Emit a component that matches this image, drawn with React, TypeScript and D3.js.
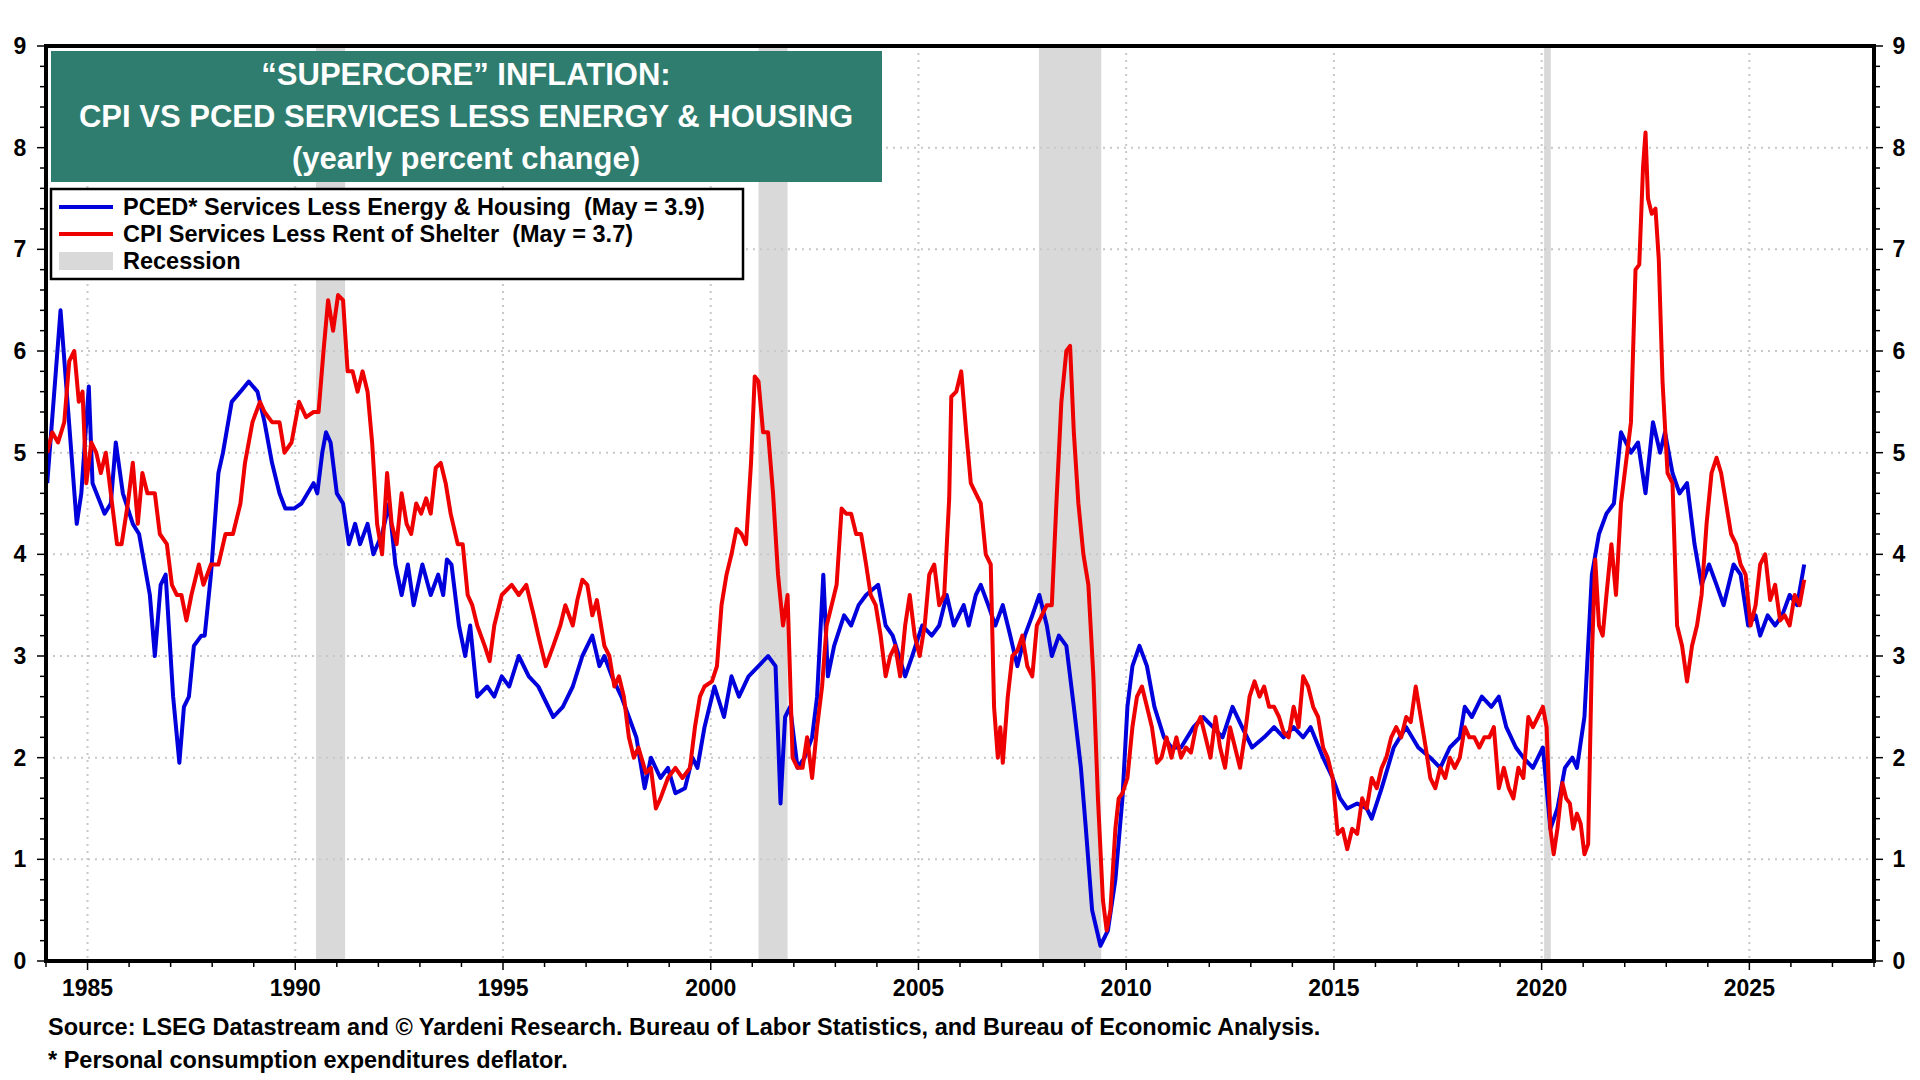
import React from "react";
import * as d3 from "d3";

// [decimal year, yearly % change]
const pcedServices: [number, number][] = [
  [1984.03,4.7],[1984.35,6.4],[1984.74,4.3],[1984.85,4.6],[1985.03,5.65],[1985.12,4.7],[1985.41,4.4],[1985.56,4.5],
  [1985.68,5.1],[1985.85,4.6],[1986.09,4.3],[1986.24,4.2],[1986.5,3.6],[1986.62,3.0],[1986.76,3.7],[1986.88,3.8],
  [1987.06,2.6],[1987.21,1.95],[1987.32,2.5],[1987.44,2.6],[1987.56,3.1],[1987.74,3.2],[1987.82,3.2],[1987.97,3.8],
  [1988.15,4.8],[1988.26,5.0],[1988.47,5.5],[1988.68,5.6],[1988.88,5.7],[1989.09,5.6],[1989.26,5.3],[1989.44,4.9],
  [1989.62,4.6],[1989.76,4.45],[1989.97,4.45],[1990.15,4.5],[1990.44,4.7],[1990.53,4.6],[1990.65,5.0],[1990.74,5.2],
  [1990.85,5.1],[1991.0,4.6],[1991.15,4.5],[1991.29,4.1],[1991.44,4.3],[1991.56,4.1],[1991.74,4.3],[1991.88,4.0],
  [1992.09,4.2],[1992.26,4.5],[1992.41,3.9],[1992.56,3.6],[1992.71,3.9],[1992.85,3.5],[1993.06,3.9],[1993.26,3.6],
  [1993.44,3.8],[1993.56,3.6],[1993.65,3.95],[1993.76,3.9],[1993.94,3.3],[1994.09,3.0],[1994.21,3.3],[1994.38,2.6],
  [1994.62,2.7],[1994.79,2.6],[1994.97,2.8],[1995.15,2.7],[1995.38,3.0],[1995.62,2.8],[1995.85,2.7],[1996.21,2.4],
  [1996.44,2.5],[1996.68,2.7],[1996.91,3.0],[1997.15,3.2],[1997.32,2.9],[1997.44,3.0],[1997.62,2.8],[1997.85,2.6],
  [1998.03,2.4],[1998.21,2.2],[1998.41,1.7],[1998.56,2.0],[1998.79,1.8],[1998.97,1.9],[1999.15,1.65],[1999.38,1.7],
  [1999.56,2.0],[1999.68,1.9],[1999.85,2.3],[2000.09,2.7],[2000.32,2.4],[2000.5,2.8],[2000.68,2.6],[2000.91,2.8],
  [2001.15,2.9],[2001.38,3.0],[2001.56,2.9],[2001.68,1.55],[2001.79,2.4],[2001.91,2.5],[2002.09,1.9],[2002.26,2.0],
  [2002.44,2.2],[2002.56,2.6],[2002.71,3.8],[2002.82,2.8],[2002.97,3.1],[2003.21,3.4],[2003.38,3.3],[2003.56,3.5],
  [2003.74,3.6],[2004.03,3.7],[2004.21,3.3],[2004.38,3.2],[2004.68,2.8],[2004.85,3.0],[2005.09,3.3],[2005.32,3.2],
  [2005.5,3.3],[2005.68,3.6],[2005.85,3.3],[2006.09,3.5],[2006.21,3.3],[2006.38,3.6],[2006.5,3.7],[2006.68,3.5],
  [2006.85,3.3],[2007.03,3.5],[2007.21,3.2],[2007.38,2.9],[2007.56,3.2],[2007.74,3.4],[2007.91,3.6],[2008.09,3.3],
  [2008.21,3.0],[2008.38,3.2],[2008.56,3.1],[2008.74,2.5],[2008.91,1.9],[2009.03,1.3],[2009.18,0.5],[2009.38,0.15],
  [2009.56,0.3],[2009.74,0.8],[2009.91,1.6],[2010.03,2.5],[2010.15,2.9],[2010.32,3.1],[2010.5,2.9],[2010.68,2.5],
  [2010.91,2.2],[2011.09,2.1],[2011.32,2.1],[2011.62,2.3],[2011.85,2.4],[2012.09,2.3],[2012.32,2.2],[2012.56,2.5],
  [2012.79,2.3],[2013.03,2.1],[2013.32,2.2],[2013.56,2.3],[2013.79,2.2],[2014.03,2.3],[2014.26,2.2],[2014.44,2.3],
  [2014.74,2.0],[2014.97,1.8],[2015.15,1.6],[2015.32,1.5],[2015.56,1.55],[2015.79,1.5],[2015.91,1.4],[2016.15,1.7],
  [2016.44,2.1],[2016.74,2.3],[2017.03,2.1],[2017.32,2.0],[2017.56,1.9],[2017.79,2.1],[2018.03,2.2],[2018.15,2.5],
  [2018.32,2.4],[2018.56,2.6],[2018.79,2.5],[2018.97,2.6],[2019.15,2.3],[2019.38,2.1],[2019.56,2.0],[2019.79,1.9],
  [2020.03,2.1],[2020.21,1.3],[2020.38,1.5],[2020.56,1.9],[2020.74,2.0],[2020.85,1.9],[2021.03,2.4],[2021.21,3.8],
  [2021.38,4.2],[2021.56,4.4],[2021.74,4.5],[2021.91,5.2],[2022.15,5.0],[2022.32,5.1],[2022.5,4.6],[2022.68,5.3],
  [2022.85,5.0],[2022.97,5.2],[2023.15,4.8],[2023.32,4.6],[2023.5,4.7],[2023.68,4.1],[2023.85,3.7],[2024.03,3.9],
  [2024.21,3.7],[2024.38,3.5],[2024.62,3.9],[2024.79,3.8],[2024.97,3.3],[2025.15,3.4],[2025.26,3.2],[2025.44,3.4],
  [2025.62,3.3],[2025.79,3.4],[2025.97,3.6],[2026.15,3.5],[2026.32,3.9],
];

const cpiServices: [number, number][] = [
  [1984.03,5.0],[1984.15,5.2],[1984.29,5.1],[1984.44,5.3],[1984.56,5.9],[1984.68,6.0],[1984.79,5.5],[1984.88,5.6],
  [1984.97,4.7],[1985.09,5.1],[1985.21,5.0],[1985.32,4.8],[1985.44,5.0],[1985.56,4.6],[1985.71,4.1],[1985.82,4.1],
  [1985.97,4.5],[1986.09,4.9],[1986.21,4.3],[1986.32,4.8],[1986.44,4.6],[1986.62,4.6],[1986.74,4.2],[1986.91,4.1],
  [1987.03,3.7],[1987.15,3.6],[1987.26,3.6],[1987.38,3.35],[1987.5,3.6],[1987.68,3.9],[1987.79,3.7],[1987.97,3.9],
  [1988.15,3.9],[1988.32,4.2],[1988.5,4.2],[1988.68,4.5],[1988.79,4.9],[1988.97,5.3],[1989.15,5.5],[1989.26,5.4],
  [1989.44,5.3],[1989.62,5.3],[1989.74,5.0],[1989.91,5.1],[1990.09,5.5],[1990.26,5.35],[1990.44,5.4],[1990.56,5.4],
  [1990.68,6.0],[1990.79,6.5],[1990.91,6.2],[1991.03,6.55],[1991.15,6.5],[1991.26,5.8],[1991.38,5.8],[1991.5,5.6],
  [1991.62,5.8],[1991.74,5.6],[1991.85,5.1],[1991.97,4.3],[1992.09,4.0],[1992.21,4.8],[1992.32,4.3],[1992.44,4.1],
  [1992.56,4.6],[1992.68,4.3],[1992.79,4.2],[1992.91,4.5],[1993.03,4.4],[1993.15,4.55],[1993.26,4.4],[1993.38,4.85],
  [1993.5,4.9],[1993.62,4.7],[1993.74,4.4],[1993.91,4.1],[1994.03,4.1],[1994.15,3.6],[1994.26,3.5],[1994.38,3.3],
  [1994.56,3.1],[1994.68,2.95],[1994.79,3.3],[1994.97,3.6],[1995.21,3.7],[1995.38,3.6],[1995.56,3.7],[1995.74,3.4],
  [1995.85,3.2],[1996.03,2.9],[1996.21,3.1],[1996.38,3.3],[1996.5,3.5],[1996.68,3.3],[1996.79,3.55],[1996.91,3.75],
  [1997.03,3.7],[1997.15,3.4],[1997.26,3.55],[1997.44,3.1],[1997.56,3.0],[1997.68,2.7],[1997.79,2.8],[1997.91,2.6],
  [1998.03,2.2],[1998.15,2.0],[1998.26,2.1],[1998.44,1.85],[1998.56,1.9],[1998.68,1.5],[1998.79,1.6],[1998.97,1.8],
  [1999.15,1.9],[1999.32,1.8],[1999.5,1.9],[1999.62,2.3],[1999.74,2.6],[1999.85,2.7],[2000.03,2.75],[2000.15,2.9],
  [2000.26,3.5],[2000.38,3.8],[2000.5,4.0],[2000.62,4.25],[2000.74,4.2],[2000.85,4.1],[2000.97,4.9],[2001.06,5.75],
  [2001.15,5.7],[2001.26,5.2],[2001.38,5.2],[2001.5,4.6],[2001.62,3.8],[2001.74,3.3],[2001.85,3.6],[2001.97,2.0],
  [2002.09,1.9],[2002.21,1.9],[2002.32,2.2],[2002.44,1.8],[2002.56,2.3],[2002.68,2.7],[2002.79,3.3],[2002.91,3.5],
  [2003.03,3.7],[2003.15,4.45],[2003.26,4.4],[2003.38,4.4],[2003.5,4.2],[2003.62,4.2],[2003.74,3.9],[2003.85,3.6],
  [2003.97,3.5],[2004.09,3.2],[2004.21,2.8],[2004.32,3.0],[2004.44,3.1],[2004.56,2.8],[2004.68,3.3],[2004.79,3.6],
  [2004.91,3.2],[2005.03,3.0],[2005.15,3.3],[2005.26,3.8],[2005.38,3.9],[2005.5,3.5],[2005.62,3.6],[2005.74,4.55],
  [2005.79,5.55],[2005.91,5.6],[2006.03,5.8],[2006.15,5.2],[2006.26,4.7],[2006.38,4.6],[2006.5,4.5],[2006.62,4.0],
  [2006.74,3.9],[2006.82,2.5],[2006.91,2.0],[2006.97,2.3],[2007.03,1.95],[2007.15,2.6],[2007.26,3.0],[2007.38,3.05],
  [2007.5,3.2],[2007.62,2.9],[2007.74,2.8],[2007.85,3.3],[2007.97,3.4],[2008.09,3.5],[2008.21,3.5],[2008.32,4.5],
  [2008.44,5.5],[2008.56,6.0],[2008.65,6.05],[2008.74,5.2],[2008.85,4.5],[2008.97,4.0],[2009.09,3.7],[2009.21,2.8],
  [2009.32,1.6],[2009.44,0.6],[2009.53,0.3],[2009.62,0.5],[2009.74,1.3],[2009.82,1.6],[2009.91,1.65],[2010.03,1.8],
  [2010.15,2.3],[2010.26,2.6],[2010.38,2.7],[2010.5,2.5],[2010.62,2.3],[2010.74,1.95],[2010.85,2.0],[2010.97,2.2],
  [2011.09,2.0],[2011.21,2.2],[2011.32,2.0],[2011.44,2.1],[2011.56,2.05],[2011.68,2.3],[2011.79,2.4],[2011.91,2.2],
  [2012.03,2.0],[2012.15,2.4],[2012.26,2.1],[2012.38,1.9],[2012.5,2.3],[2012.62,2.1],[2012.74,1.9],[2012.85,2.2],
  [2012.97,2.6],[2013.09,2.75],[2013.21,2.6],[2013.32,2.7],[2013.44,2.5],[2013.56,2.5],[2013.68,2.4],[2013.79,2.25],
  [2013.91,2.2],[2014.03,2.5],[2014.15,2.3],[2014.26,2.8],[2014.38,2.7],[2014.5,2.5],[2014.62,2.4],[2014.74,2.1],
  [2014.85,2.0],[2014.97,1.8],[2015.09,1.25],[2015.21,1.3],[2015.32,1.1],[2015.44,1.3],[2015.56,1.25],[2015.68,1.6],
  [2015.79,1.5],[2015.91,1.8],[2016.03,1.7],[2016.15,1.9],[2016.26,2.0],[2016.38,2.2],[2016.5,2.3],[2016.62,2.2],
  [2016.74,2.4],[2016.85,2.35],[2016.97,2.7],[2017.09,2.4],[2017.21,2.1],[2017.32,1.8],[2017.44,1.7],[2017.56,1.9],
  [2017.68,1.8],[2017.79,2.0],[2017.91,1.9],[2018.03,2.0],[2018.15,2.3],[2018.26,2.2],[2018.38,2.2],[2018.5,2.1],
  [2018.62,2.2],[2018.74,2.2],[2018.85,2.3],[2018.97,1.7],[2019.09,1.9],[2019.21,1.7],[2019.32,1.6],[2019.44,1.9],
  [2019.56,1.8],[2019.68,2.4],[2019.79,2.3],[2019.91,2.4],[2020.03,2.5],[2020.12,2.3],[2020.21,1.3],[2020.29,1.05],
  [2020.38,1.3],[2020.5,1.75],[2020.59,1.6],[2020.68,1.55],[2020.76,1.3],[2020.85,1.45],[2020.94,1.35],[2021.03,1.05],
  [2021.12,1.15],[2021.21,3.0],[2021.29,3.95],[2021.38,3.3],[2021.47,3.2],[2021.56,3.6],[2021.68,4.1],[2021.79,3.6],
  [2021.91,4.5],[2022.03,4.9],[2022.15,5.3],[2022.26,6.8],[2022.35,6.85],[2022.44,7.8],[2022.5,8.15],[2022.56,7.5],
  [2022.65,7.35],[2022.74,7.4],[2022.82,6.9],[2022.91,5.7],[2023.03,4.8],[2023.15,4.7],[2023.26,3.3],[2023.38,3.1],
  [2023.5,2.75],[2023.62,3.1],[2023.74,3.3],[2023.85,3.6],[2023.97,4.3],[2024.09,4.8],[2024.21,4.95],[2024.32,4.8],
  [2024.44,4.5],[2024.56,4.2],[2024.68,4.1],[2024.79,3.9],[2024.91,3.8],[2025.03,3.3],[2025.15,3.5],[2025.26,3.9],
  [2025.38,4.0],[2025.5,3.55],[2025.62,3.7],[2025.74,3.35],[2025.85,3.4],[2025.97,3.3],[2026.09,3.6],[2026.21,3.5],
  [2026.32,3.75],
];

const recessions: [number, number][] = [
  [1990.5, 1991.2], [2001.15, 2001.85], [2007.9, 2009.4], [2020.06, 2020.22],
];

const yearTicks = [1985, 1990, 1995, 2000, 2005, 2010, 2015, 2020, 2025];
const valueTicks = [0, 1, 2, 3, 4, 5, 6, 7, 8, 9];
const titleLines = ["\u201CSUPERCORE\u201D INFLATION:", "CPI VS PCED SERVICES LESS ENERGY & HOUSING", "(yearly percent change)"];
const legendItems = [
  { label: "PCED* Services Less Energy & Housing\u00A0\u00A0(May = 3.9)", color: "#0000dd", kind: "line" },
  { label: "CPI Services Less Rent of Shelter\u00A0\u00A0(May = 3.7)", color: "#ee0000", kind: "line" },
  { label: "Recession", color: "#d9d9d9", kind: "box" },
];
const footnotes = [
  "Source: LSEG Datastream and \u00A9 Yardeni Research. Bureau of Labor Statistics, and Bureau of Economic Analysis.",
  "* Personal consumption expenditures deflator.",
];

const W = 1920, H = 1080;
const M = { left: 46, top: 46, right: 1874, bottom: 961 };
const FONT = "Arial, 'Liberation Sans', sans-serif";

export default function App() {
  const x = d3.scaleLinear().domain([1984, 2028]).range([M.left, M.right]);
  const y = d3.scaleLinear().domain([0, 9]).range([M.bottom, M.top]);
  const line = d3.line<[number, number]>().x(d => x(d[0])).y(d => y(d[1]));
  const minorY = d3.range(0, 9.001, 0.2);
  const minorX = d3.range(1984, 2028.001, 1);

  return (
    <svg width={W} height={H} style={{ position: "absolute", left: 0, top: 0, background: "#fff" }} fontFamily={FONT}>
      {recessions.map(([a, b], i) => (
        <rect key={i} x={x(a)} y={M.top} width={x(b) - x(a)} height={M.bottom - M.top} fill="#d9d9d9" />
      ))}
      {valueTicks.slice(1, -1).map(v => (
        <line key={v} x1={M.left} x2={M.right} y1={y(v)} y2={y(v)} stroke="#c8c8c8" strokeWidth={2} strokeDasharray="2,5" />
      ))}
      {yearTicks.map(t => (
        <line key={t} x1={x(t)} x2={x(t)} y1={M.top} y2={M.bottom} stroke="#c8c8c8" strokeWidth={2} strokeDasharray="2,5" />
      ))}
      <path d={line(pcedServices) || ""} fill="none" stroke="#0000dd" strokeWidth={4} strokeLinejoin="round" />
      <path d={line(cpiServices) || ""} fill="none" stroke="#ee0000" strokeWidth={4} strokeLinejoin="round" />

      {/* frame */}
      <rect x={M.left} y={M.top} width={M.right - M.left} height={M.bottom - M.top} fill="none" stroke="#000" strokeWidth={4} />
      {minorY.map((v, i) => {
        const major = Math.abs(v - Math.round(v)) < 1e-6;
        const len = major ? 9 : 6;
        return (
          <g key={i}>
            <line x1={M.left - len} x2={M.left} y1={y(v)} y2={y(v)} stroke="#000" strokeWidth={1.5} />
            <line x1={M.right} x2={M.right + len} y1={y(v)} y2={y(v)} stroke="#000" strokeWidth={1.5} />
          </g>
        );
      })}
      {minorX.map(t => (
        <line key={t} x1={x(t)} x2={x(t)} y1={M.bottom} y2={M.bottom + (t % 5 === 0 ? 9 : 6)} stroke="#000" strokeWidth={1.5} />
      ))}
      {valueTicks.map(v => (
        <g key={v} fontSize={23} fontWeight="bold">
          <text x={20} y={y(v) + 8} textAnchor="middle">{v}</text>
          <text x={1899} y={y(v) + 8} textAnchor="middle">{v}</text>
        </g>
      ))}
      {yearTicks.map(t => (
        <text key={t} x={x(t)} y={996} textAnchor="middle" fontSize={23} fontWeight="bold">{t}</text>
      ))}

      {/* title */}
      <rect x={51} y={51} width={831} height={131} fill="#2e7d6e" />
      {titleLines.map((s, i) => (
        <text key={i} x={466} y={85 + i * 42} textAnchor="middle" fill="#fff" fontSize={31} fontWeight="bold">{s}</text>
      ))}

      {/* legend */}
      <rect x={51} y={189} width={692} height={90} fill="#fff" stroke="#000" strokeWidth={2.5} />
      {legendItems.map((it, i) => {
        const cy = 207 + i * 27;
        return (
          <g key={i}>
            {it.kind === "line"
              ? <line x1={59} x2={113} y1={cy} y2={cy} stroke={it.color} strokeWidth={4} />
              : <rect x={59} y={cy - 9} width={54} height={18} fill={it.color} />}
            <text x={123} y={cy + 8} fontSize={23.5} fontWeight="bold">{it.label}</text>
          </g>
        );
      })}

      {footnotes.map((s, i) => (
        <text key={i} x={48} y={1035 + i * 33} fontSize={23.5} fontWeight="bold">{s}</text>
      ))}
    </svg>
  );
}
